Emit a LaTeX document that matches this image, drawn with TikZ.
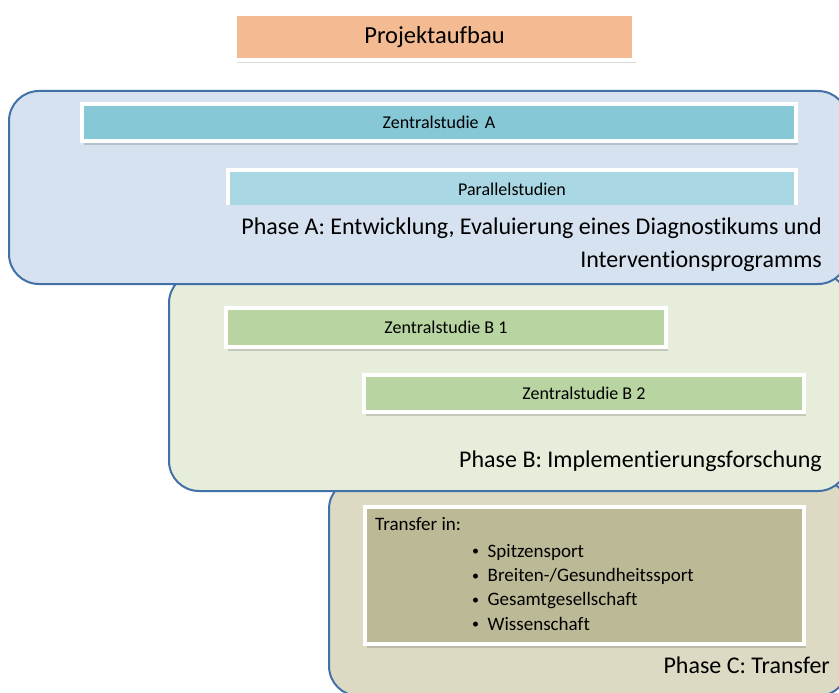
\documentclass[tikz,border=0pt]{standalone}
\usepackage{fontspec}
\setmainfont[Ligatures=CommonOff]{Carlito}
\usetikzlibrary{shadows}
\definecolor{bordblue}{HTML}{4271A8}
\definecolor{phaseA}{HTML}{D6E2EF}
\definecolor{phaseB}{HTML}{E6EDDB}
\definecolor{phaseC}{HTML}{DDDAC4}
\definecolor{barA}{HTML}{86C8D6}
\definecolor{barP}{HTML}{A9D7E3}
\definecolor{barB}{HTML}{B7D4A1}
\definecolor{barT}{HTML}{BCB996}
\definecolor{barO}{HTML}{F4BA91}
\newcommand{\smallbul}{\raisebox{1.2pt}{\fontsize{14}{14}\selectfont •}\hspace{0.45em}}
\begin{document}
\begin{tikzpicture}[x=1pt,y=-1pt,
  phasebox/.style={draw=bordblue, line width=2pt, rounded corners=30pt, inner sep=0pt, outer sep=0pt},
  barbox/.style={draw=white, line width=3.5pt, inner sep=0pt, outer sep=0pt,
     drop shadow={shadow xshift=1.5pt, shadow yshift=-3.5pt, opacity=0.15, fill=black}},
  phasetext/.style={font=\fontsize{24}{28}\selectfont, inner sep=0pt},
  bartext/.style={font=\fontsize{18}{21}\selectfont, inner sep=0pt},
  listtext/.style={font=\fontsize{19}{23}\selectfont, inner sep=0pt}]
\useasboundingbox (0,0) rectangle (839,693);
\clip (0,0) rectangle (839,693);
% phase boxes
\node[phasebox, fill=phaseC, minimum width=519pt, minimum height=217pt] (pc) at (588.5,587.5) {};
\node[phasebox, fill=phaseB, minimum width=679pt, minimum height=218pt] (pb) at (508.5,382) {};
\node[phasebox, fill=phaseA, minimum width=839pt, minimum height=193pt] (pa) at (428.5,187.5) {};
% title
\node[barbox, fill=barO, minimum width=399pt, minimum height=46pt,
      font=\fontsize{24.5}{28}\selectfont] (title) at (434.5,37) {Projektaufbau};
% phase A bars
\node[barbox, fill=barA, minimum width=714pt, minimum height=37pt] (za) at (439,122.5) {};
\node[bartext] (zat) at (za.center) {Zentralstudie\hspace{0.35em}A};
\begin{scope}
\clip (0,0) rectangle (839,204.5);
\node[barbox, fill=barP, minimum width=568pt, minimum height=40pt] (ps) at (512,190) {};
\end{scope}
\node[bartext] (pst) at (512,189) {Parallelstudien};
\node[phasetext, anchor=base east] (ta1) at (822,234) {Phase A: Entwicklung, Evaluierung eines Diagnostikums und};
\node[phasetext, anchor=base east] (ta2) at (822,267) {Interventionsprogramms};
% phase B bars
\node[barbox, fill=barB, minimum width=440pt, minimum height=39pt] (b1) at (446,327.5) {};
\node[bartext] (b1t) at (b1.center) {Zentralstudie B 1};
\node[barbox, fill=barB, minimum width=440pt, minimum height=37pt] (b2) at (584,393.5) {};
\node[bartext] (b2t) at (b2.center) {Zentralstudie B 2};
\node[phasetext, anchor=base east] (tb) at (822,467) {Phase B: Implementierungsforschung};
% phase C
\node[barbox, fill=barT, minimum width=439pt, minimum height=137pt] (tr) at (584.5,575.5) {};
\node[listtext, anchor=base west] (trh) at (375,530) {Transfer in:};
\node[listtext, anchor=base west] (l1) at (472,557) {\smallbul Spitzensport};
\node[listtext, anchor=base west] (l2) at (472,581.3) {\smallbul Breiten-/Gesundheitssport};
\node[listtext, anchor=base west] (l3) at (472,605.6) {\smallbul Gesamtgesellschaft};
\node[listtext, anchor=base west] (l4) at (472,630) {\smallbul Wissenschaft};
\node[phasetext, anchor=base east] (tc) at (830,673) {Phase C: Transfer};
\end{tikzpicture}
\end{document}
